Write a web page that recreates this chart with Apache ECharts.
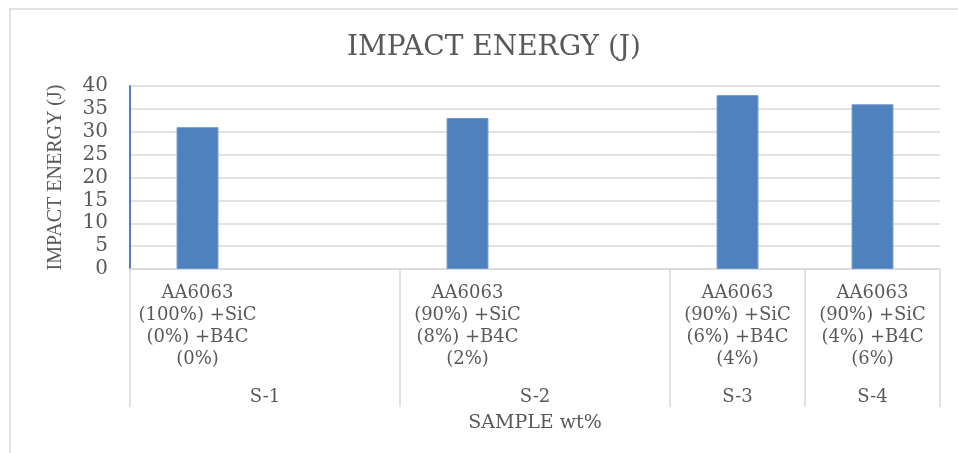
<!DOCTYPE html>
<html>
<head>
<meta charset="utf-8">
<script src="https://cdn.jsdelivr.net/npm/echarts@6/dist/echarts.min.js"></script>
<style>
html,body{margin:0;padding:0;background:#fff;}
#chart{width:958px;height:453px;}
</style>
</head>
<body>
<div id="chart"></div>
<script>
// ---- data ----
var sampleLabels = [
  'AA6063\n(100%) +SiC\n(0%) +B4C\n(0%)',
  'AA6063\n(90%) +SiC\n(8%) +B4C\n(2%)',
  'AA6063\n(90%) +SiC\n(6%) +B4C\n(4%)',
  'AA6063\n(90%) +SiC\n(4%) +B4C\n(6%)'
];
var groupLabels = ['S-1', 'S-2', 'S-3', 'S-4'];
var groupSpan = [2, 2, 1, 1];   // number of category slots each sample occupies (Excel multi-level axis)
var impactEnergy = [31, 33, 38, 36];
var yTicks = [0, 5, 10, 15, 20, 25, 30, 35, 40];

// ---- build slot structure ----
var slotCats = [], slotVals = [];
groupSpan.forEach(function (span, i) {
  for (var k = 0; k < span; k++) {
    slotCats.push(k === 0 ? sampleLabels[i] : '');
    slotVals.push(k === 0 ? impactEnergy[i] : null);
  }
});
// half-slot points for group axis (boundaryGap false)
var nSlots = slotCats.length;
var halfPts = [], tickIdx = {}, labelIdx = {};
for (var h = 0; h <= nSlots * 2; h++) halfPts.push('');
var pos = 0;
tickIdx[0] = true;
groupSpan.forEach(function (span, i) {
  var center = pos + span; // in half-slot units
  halfPts[center] = groupLabels[i];
  labelIdx[center] = true;
  pos += span * 2;
  tickIdx[pos] = true;
});

var FONT = "'DejaVu Serif', 'Liberation Serif', serif";
var GREY = '#595959';
var LINE = '#D9D9D9';

var chart = echarts.init(document.getElementById('chart'), null, {renderer: 'canvas'});
chart.setOption({
  animation: false,
  backgroundColor: '#fff',
  graphic: [{
    type: 'polyline', silent: true, z: -10,
    shape: {points: [[10, 1200], [10, 9], [1200, 9]]},
    style: {fill: null, stroke: '#D9D9D9', lineWidth: 1.5}
  }],
  title: {
    text: 'IMPACT ENERGY (J)',
    left: 489, top: 29, textAlign: 'center',
    textStyle: {fontFamily: FONT, fontSize: 28, fontWeight: 'normal', color: GREY}
  },
  grid: {left: 130, right: 18, top: 86, bottom: 184, containLabel: false},
  xAxis: [{
    type: 'category',
    data: slotCats,
    boundaryGap: true,
    axisLine: {show: true, lineStyle: {color: LINE, width: 1.5}},
    axisTick: {show: false},
    axisLabel: {
      interval: 0, margin: 13, color: GREY,
      fontFamily: FONT, fontSize: 18, lineHeight: 22, align: 'center'
    }
  }, {
    type: 'category',
    position: 'bottom',
    data: halfPts,
    boundaryGap: false,
    axisLine: {show: false},
    axisTick: {
      show: true, length: 138, inside: false,
      interval: function (i) { return !!tickIdx[i]; },
      lineStyle: {color: LINE, width: 1.5}
    },
    axisLabel: {
      interval: function (i) { return !!labelIdx[i]; },
      margin: 119, color: GREY, fontFamily: FONT, fontSize: 18
    },
    name: 'SAMPLE wt%',
    nameLocation: 'middle',
    nameGap: 145,
    nameTextStyle: {color: GREY, fontFamily: FONT, fontSize: 19}
  }],
  yAxis: {
    type: 'value',
    min: yTicks[0], max: yTicks[yTicks.length - 1], interval: yTicks[1] - yTicks[0],
    axisLine: {show: true, lineStyle: {color: '#4F81BD', width: 2}},
    axisTick: {show: false},
    axisLabel: {margin: 22, color: GREY, fontFamily: FONT, fontSize: 20},
    splitLine: {show: true, lineStyle: {color: LINE, width: 1.5}},
    name: 'IMPACT ENERGY (J)',
    nameLocation: 'middle',
    nameRotate: 90,
    nameGap: 64,
    nameTextStyle: {color: GREY, fontFamily: "'Liberation Serif', serif", fontSize: 20}
  },
  series: [{
    type: 'bar',
    xAxisIndex: 0,
    data: slotVals,
    barWidth: '31%',
    itemStyle: {color: '#4F81BD', borderColor: '#6A97CF', borderWidth: 1}
  }]
});
</script>
</body>
</html>
